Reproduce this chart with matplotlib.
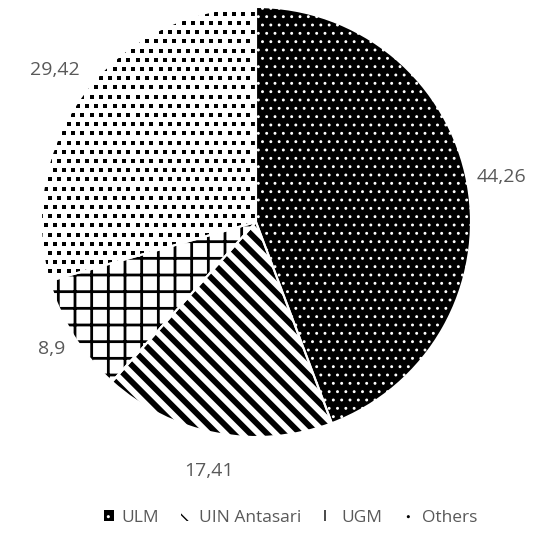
import numpy as np
import matplotlib
matplotlib.use("Agg")
import matplotlib.pyplot as plt
from matplotlib.patches import Rectangle

# share of respondents by university
universities = ["ULM", "UIN Antasari", "UGM", "Others"]
shares = [44.26, 17.41, 8.9, 29.42]
share_labels = ["44,26", "17,41", "8,9", "29,42"]

plt.rcParams["font.family"] = ["Open Sans", "DejaVu Sans"]
TEXT_GREY = "#595959"

W, H = 543, 538
fig = plt.figure(figsize=(W / 100, H / 100), dpi=100)

cx, cy, r = 256, 222, 215
ax = fig.add_axes([(cx - r) / W, (H - cy - r) / H, 2 * r / W, 2 * r / H])

faces = ["black", "white", "white", "white"]
hatch_cols = ["white", "black", "black", "black"]
hatches = ["..", "\\\\", "+", None]
hatch_lw = [0.9, 4.2, 2.0, 1.0]

wedges, _ = ax.pie(shares, startangle=90, counterclock=False, radius=1,
                   center=(0, 0), frame=False)
for w, fc, hc, h, lw in zip(wedges, faces, hatch_cols, hatches, hatch_lw):
    w.set_facecolor(fc)
    w.set_edgecolor(hc)
    w.set_linewidth(0)
    w.set_hatch(h)
    if hasattr(w, "set_hatch_linewidth"):
        w.set_hatch_linewidth(lw)

# "Others" texture: staggered small black squares clipped to the slice
step = 9.2 / r
gx, gy = np.meshgrid(np.arange(-1, 1 + step, step), np.arange(-1, 1 + step, step))
gx[1::2] += step / 2
dots = ax.scatter(gx.ravel(), gy.ravel(), marker="s", s=12.5, c="black", linewidths=0)
dots.set_clip_path(wedges[3])

# white separators between slices
ax.pie(shares, startangle=90, counterclock=False, radius=1,
       center=(0, 0), frame=False,
       wedgeprops=dict(facecolor="none", edgecolor="white", linewidth=1.5))

ax.set_xlim(-1, 1)
ax.set_ylim(-1, 1)
ax.set_aspect("equal")
ax.axis("off")

# value labels just outside each slice
label_r = [1.16, 1.18, 1.12, 1.17]
for w, txt, lr in zip(wedges, share_labels, label_r):
    ang = np.deg2rad((w.theta1 + w.theta2) / 2)
    ax.text(lr * np.cos(ang), lr * np.sin(ang), txt, ha="center", va="center",
            fontsize=14, color=TEXT_GREY, clip_on=False)

others_key = Rectangle((0, 0), 1, 1, facecolor="white", edgecolor="black",
                       linewidth=0, hatch="..")
handles = list(wedges[:3]) + [others_key]
fig.legend(handles, universities, loc="center", bbox_to_anchor=(0.535, 1 - 518 / H),
           ncol=4, frameon=False, fontsize=12.5, handlelength=0.6, handleheight=0.6,
           handletextpad=0.4, columnspacing=1.3, labelcolor=TEXT_GREY)

fig.savefig("out.png", dpi=100)
